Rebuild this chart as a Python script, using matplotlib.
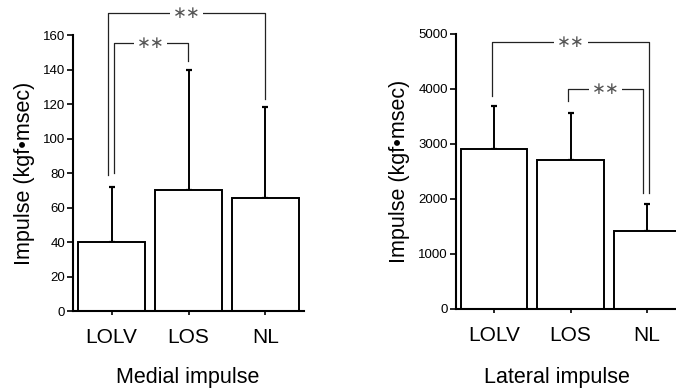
import matplotlib
matplotlib.use("Agg")
import matplotlib.pyplot as plt
import numpy as np

plt.rcParams['font.family'] = ['Liberation Sans', 'DejaVu Sans']

categories = ["LOLV", "LOS", "NL"]
medial_mean = [40, 70, 65.5]
medial_sd = [32, 70, 52.5]
lateral_mean = [2910, 2700, 1410]
lateral_sd = [770, 860, 500]

medial_ticks = [0, 20, 40, 60, 80, 100, 120, 140, 160]
lateral_ticks = [0, 1000, 2000, 3000, 4000, 5000]

# brackets: (x_left, x_right, y_top, y_left_end, y_right_end)
medial_brackets = [(-0.05, 2.0, 173, 79, 123), (0.03, 0.99, 155.5, 80, 145)]
lateral_brackets = [(-0.02, 2.03, 4840, 3860, 2100), (0.97, 1.95, 4000, 3770, 2100)]

fig = plt.figure(figsize=(6.76, 3.89), dpi=100)
ax1 = fig.add_axes([0.108, 0.2005, 0.3417, 0.7095])
ax2 = fig.add_axes([0.674, 0.2057, 0.340, 0.7077])

def draw(ax, means, sds, ticks, ylim, brackets):
    x = np.arange(len(categories))
    ax.bar(x, means, width=0.87, color='white', edgecolor='black', linewidth=1.4, zorder=2)
    ax.errorbar(x, means, yerr=[np.zeros(len(sds)), sds], fmt='none', ecolor='black',
                elinewidth=1.4, capsize=2.5, capthick=1.6, zorder=1)
    ax.set_xlim(-0.5, 2.5)
    ax.set_ylim(*ylim)
    ax.set_yticks(ticks)
    ax.set_xticks(x)
    ax.set_xticklabels(categories, fontsize=15)
    ax.tick_params(axis='y', labelsize=9.5, length=4, width=1.2, pad=1.5, direction='out')
    ax.tick_params(axis='x', length=3, width=1.2, pad=9, direction='out')
    for s in ['top', 'right']:
        ax.spines[s].set_visible(False)
    for s in ['left', 'bottom']:
        ax.spines[s].set_linewidth(1.5)
    ax.set_ylabel("Impulse (kgf\u2022msec)", fontsize=15.5, labelpad=6)
    for (xl, xr, yt, yl, yr) in brackets:
        ax.plot([xl, xl, xr, xr], [yl, yt, yt, yr], color='#222222', lw=0.9,
                clip_on=False, zorder=3)
        ax.text((xl + xr) / 2, yt, "\u2217\u2217", ha='center', va='center',
                fontsize=12, color='#555555', family='DejaVu Sans',
                bbox=dict(facecolor='white', edgecolor='none', pad=2),
                clip_on=False, zorder=4)

draw(ax1, medial_mean, medial_sd, medial_ticks, (0, 160), medial_brackets)
draw(ax2, lateral_mean, lateral_sd, lateral_ticks, (0, 5000), lateral_brackets)

fig.text(188 / 676, 1 - 377 / 389, "Medial impulse", ha='center', va='center', fontsize=15.5)
fig.text(557 / 676, 1 - 377 / 389, "Lateral impulse", ha='center', va='center', fontsize=15.5)

fig.savefig("out.png", dpi=100)
